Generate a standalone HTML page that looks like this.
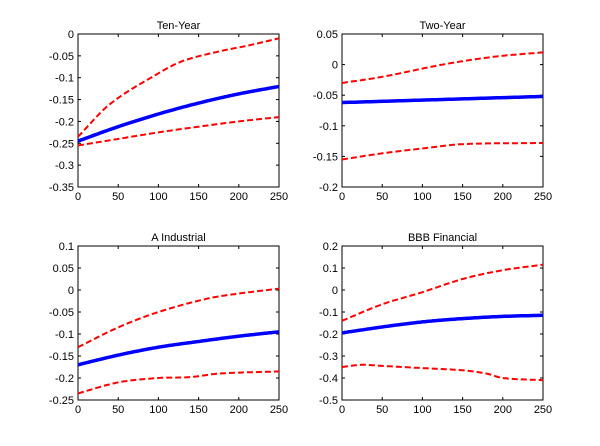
<!DOCTYPE html><html><head><style>body{margin:0;background:#fff}svg{display:block}text{font-family:"Liberation Sans",sans-serif;font-size:11px;fill:#000}</style></head><body>
<svg id="s" width="600" height="446" xmlns="http://www.w3.org/2000/svg"></svg>
<script>
const S=document.getElementById('s');let h='';
function interp(p,x){const n=p.length;let i=0;while(i<n-2&&x>p[i+1][0])i++;
 const m=k=>{if(k==0)return (p[1][1]-p[0][1])/(p[1][0]-p[0][0]);if(k==n-1)return (p[n-1][1]-p[n-2][1])/(p[n-1][0]-p[n-2][0]);return (p[k+1][1]-p[k-1][1])/(p[k+1][0]-p[k-1][0]);};
 const a=p[i],b=p[i+1],dx=b[0]-a[0],t=(x-a[0])/dx;
 const h00=2*t*t*t-3*t*t+1,h10=t*t*t-2*t*t+t,h01=-2*t*t*t+3*t*t,h11=t*t*t-t*t;
 return h00*a[1]+h10*dx*m(i)+h01*b[1]+h11*dx*m(i+1);}
function panel(x0,y0,x1,y1,ymin,ymax,step,title,blue,up,lo){
 const X=v=>x0+(v/250)*(x1-x0),Y=v=>y1-(v-ymin)/(ymax-ymin)*(y1-y0);
 h+=`<text x="${(x0+x1)/2}" y="${y0-5}" text-anchor="middle">${title}</text>`;
 h+=`<rect x="${x0}" y="${y0}" width="${x1-x0}" height="${y1-y0}" fill="none" stroke="#000" stroke-width="1"/>`;
 for(let v=0;v<=250;v+=50){const x=X(v);h+=`<line x1="${x}" y1="${y1}" x2="${x}" y2="${y1-3}" stroke="#000"/><line x1="${x}" y1="${y0}" x2="${x}" y2="${y0+3}" stroke="#000"/><text x="${x}" y="${y1+13}" text-anchor="middle">${v}</text>`;}
 const n=Math.round((ymax-ymin)/step);
 for(let i=0;i<=n;i++){const v=ymin+i*step;const y=Y(v);let lab=Math.abs(v)<1e-9?'0':String(parseFloat(v.toFixed(3)));h+=`<line x1="${x0}" y1="${y}" x2="${x0+3}" y2="${y}" stroke="#000"/><line x1="${x1}" y1="${y}" x2="${x1-3}" y2="${y}" stroke="#000"/><text x="${x0-4}" y="${y+4}" text-anchor="end">${lab}</text>`;}
 function path(pts,st){let d='';for(let v=0;v<=250;v+=2){d+=(v?'L':'M')+X(v).toFixed(1)+','+Y(interp(pts,v)).toFixed(1);}h+=`<path d="${d}" fill="none" ${st}/>`;}
 path(up,'stroke="#f00" stroke-width="2" stroke-dasharray="6,3"');
 path(lo,'stroke="#f00" stroke-width="2" stroke-dasharray="6,3"');
 path(blue,'stroke="#00f" stroke-width="3.5"');
}
panel(78,34,279,187,-0.35,0,0.05,'Ten-Year',
 [[0,-0.245],[50,-0.212],[100,-0.183],[150,-0.158],[200,-0.137],[250,-0.12]],
 [[0,-0.235],[40,-0.16],[100,-0.09],[130,-0.062],[175,-0.04],[210,-0.027],[250,-0.01]],
 [[0,-0.255],[50,-0.24],[100,-0.225],[150,-0.212],[200,-0.2],[250,-0.19]]);
panel(342,34,543,187,-0.2,0.05,0.05,'Two-Year',
 [[0,-0.062],[100,-0.058],[250,-0.052]],
 [[0,-0.03],[50,-0.02],[125,0],[190,0.013],[250,0.02]],
 [[0,-0.155],[50,-0.145],[100,-0.137],[150,-0.13],[250,-0.128]]);
panel(78,246,279,400,-0.25,0.1,0.05,'A Industrial',
 [[0,-0.17],[50,-0.148],[100,-0.13],[150,-0.117],[200,-0.105],[250,-0.095]],
 [[0,-0.13],[50,-0.085],[100,-0.05],[160,-0.02],[200,-0.008],[250,0.003]],
 [[0,-0.235],[50,-0.21],[100,-0.2],[140,-0.198],[175,-0.19],[250,-0.185]]);
panel(342,246,543,400,-0.5,0.2,0.1,'BBB Financial',
 [[0,-0.195],[50,-0.168],[100,-0.145],[150,-0.13],[200,-0.12],[250,-0.115]],
 [[0,-0.14],[50,-0.065],[100,-0.01],[150,0.05],[200,0.09],[250,0.115]],
 [[0,-0.35],[25,-0.34],[50,-0.345],[100,-0.355],[150,-0.365],[180,-0.38],[200,-0.4],[250,-0.41]]);
S.innerHTML=h;
</script></body></html>
